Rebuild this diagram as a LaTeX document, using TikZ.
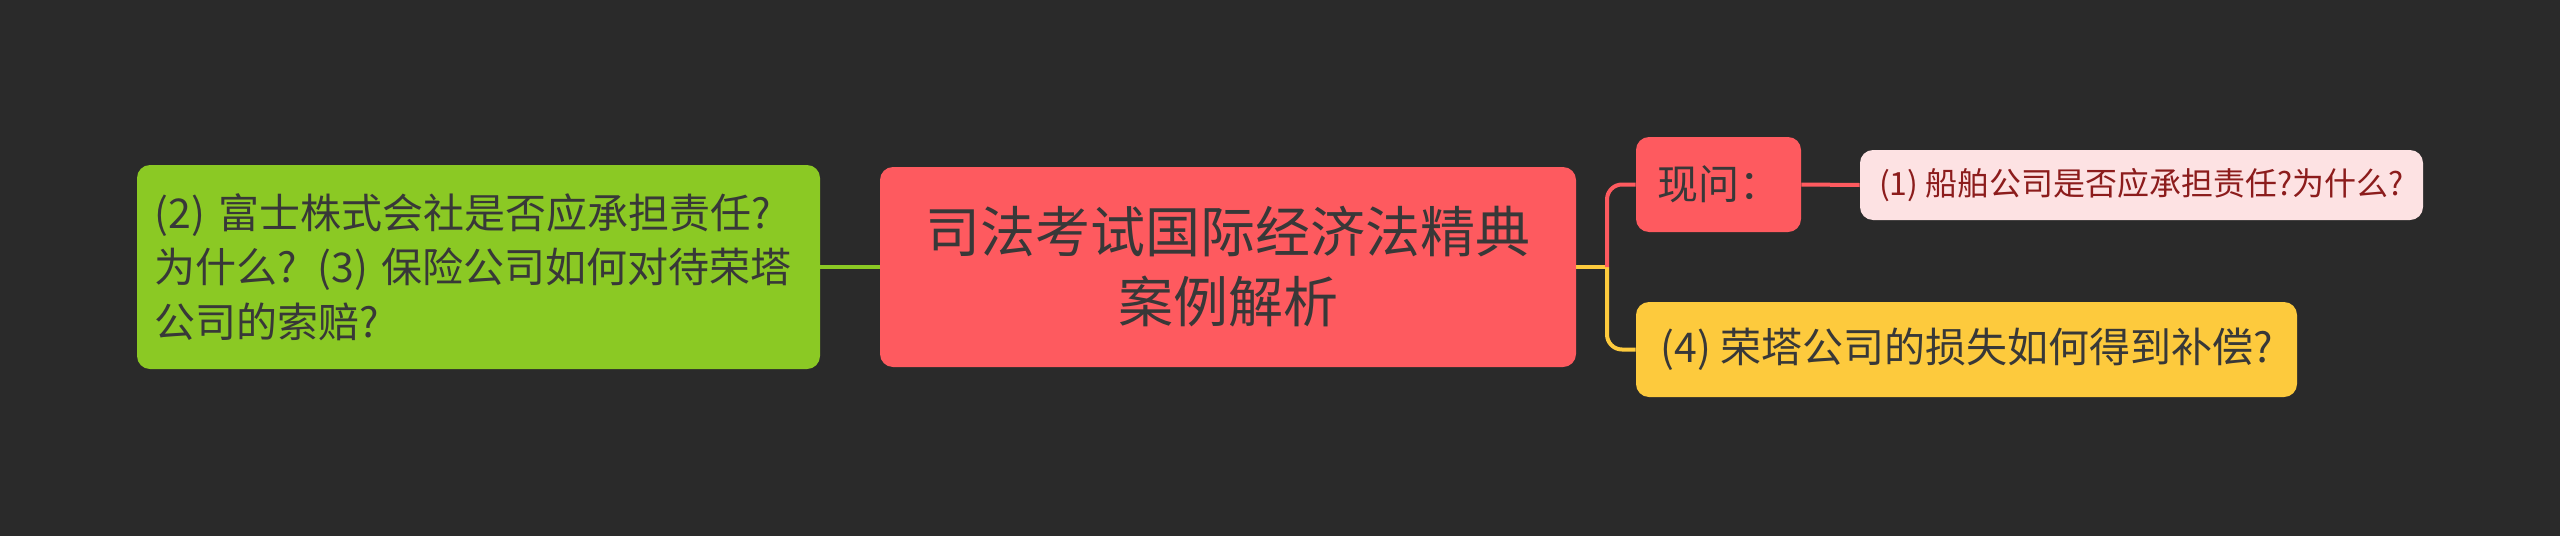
\documentclass[tikz,border=0pt]{standalone}
\usepackage{fontspec}
\setmainfont{Noto Sans CJK SC}
\usepackage{tikz}

\definecolor{bgc}{HTML}{2A2A2A}
\definecolor{rootc}{HTML}{FE5A5F}
\definecolor{leafg}{HTML}{8BC924}
\definecolor{leafy}{HTML}{FDCA3D}
\definecolor{leafp}{HTML}{FDE2E3}
\definecolor{txtd}{HTML}{383838}
\definecolor{txtr}{HTML}{8C1C1C}

\tikzset{
  topic/.style={rounded corners=6.5pt, inner sep=0pt, text=txtd},
  link/.style={line width=2pt},
}

\begin{document}
\begin{tikzpicture}[x=0.5pt, y=-0.5pt]
    \fill[bgc] (0,0) rectangle (2560,536);
    \useasboundingbox (0,0) rectangle (2560,536);
    \node(root)[topic, fill=rootc, minimum width=348pt, minimum height=100pt, align=center,
        font=\fontsize{27.5}{35}\selectfont] at (1228, 267) {司法考试国际经济法精典\\案例解析};
    \node(left)[topic, fill=leafg, minimum width=341.5pt, minimum height=102pt, text width=324pt,
        inner xsep=8.75pt, align=left, font=\fontsize{20.5}{27.3}\selectfont] at (478.5, 267)
        {\mbox{(2) 富士株式会社是否应承担责任?}\\\mbox{为什么? (3) 保险公司如何对待荣塔}\\\mbox{公司的索赔?}};
    \node(ask)[topic, fill=rootc, minimum width=82.5pt, minimum height=47.5pt,
        font=\fontsize{20.5}{24}\selectfont] at (1718.5, 184.5) {现问：};
    \node(q1)[topic, fill=leafp, text=txtr, minimum width=281.5pt, minimum height=35pt,
        font=\fontsize{16}{20}\selectfont] at (2141.5, 185) {(1) 船舶公司是否应承担责任?为什么?};
    \node(q4)[topic, fill=leafy, minimum width=330.5pt, minimum height=47.5pt,
        font=\fontsize{20.5}{24}\selectfont] at (1966.5, 349.5) {(4) 荣塔公司的损失如何得到补偿?};
    \coordinate(br) at (1607, 267);
    \draw[link, leafg] (left.east) -- (root.west);
    \draw[link, leafy] (root.east) -- (br);
    \draw[link, leafy, rounded corners=7.5pt] (br) |- (q4.west);
    \draw[link, rootc, rounded corners=7.5pt] (br) |- (ask.west);
    \draw[link, rootc] (ask.east) -- (q1.west);
\end{tikzpicture}
\end{document}
